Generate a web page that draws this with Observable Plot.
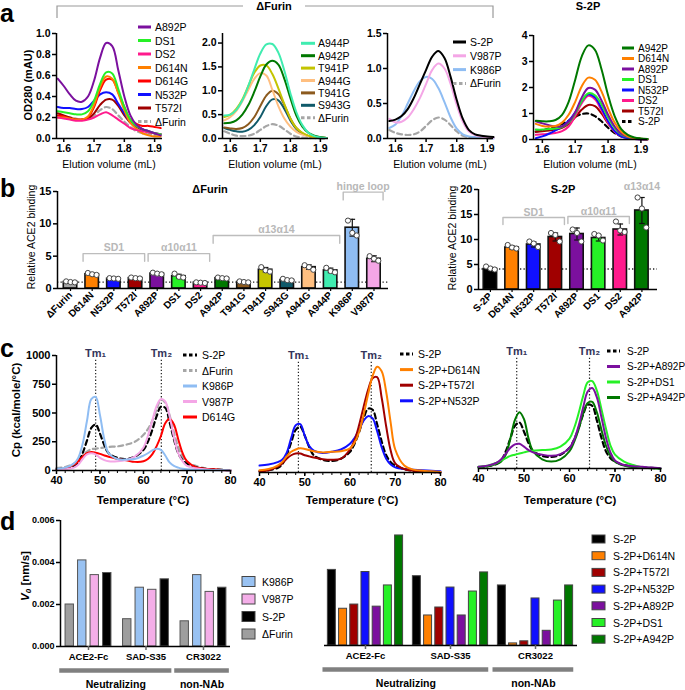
<!DOCTYPE html>
<html><head><meta charset="utf-8">
<script src="https://cdn.jsdelivr.net/npm/d3@7"></script>
<script src="https://cdn.jsdelivr.net/npm/@observablehq/plot@0.6"></script>
<style>
body{margin:0;background:#fff;}
#fig{position:relative;width:685px;height:690px;overflow:hidden;background:#fff;}
</style></head><body><div id="fig"></div>
<script>
const FONT = '"Liberation Sans", Arial, Helvetica, sans-serif';

// ---------------- DATA ----------------
const mutantColors = {
  "ΔFurin": "#a6a6a6", "S-2P": "#000000", "D614N": "#ff8000", "N532P": "#1010ff",
  "T572I": "#a00000", "A892P": "#7b109e", "DS1": "#26f026", "DS2": "#ff1a8c",
  "A942P": "#007800", "T941G": "#8c5a1e", "T941P": "#c4c400", "S943G": "#105a6a",
  "A944G": "#ffbf80", "A944P": "#40ecb0", "K986P": "#8fbdf3", "V987P": "#f4a6e6",
  "D614G": "#ff0000"
};

// panel a: elution volume grid (mL)
const elution = [1.58,1.60,1.62,1.64,1.66,1.68,1.70,1.72,1.74,1.76,1.78,1.80,1.82,1.84,1.86,1.88,1.90,1.92];

const a1Names = ["A892P","DS1","DS2","D614N","D614G","N532P","T572I","ΔFurin"];
const a1Values = [
  [0.57,0.50,0.42,0.36,0.35,0.40,0.55,0.77,0.91,0.88,0.65,0.40,0.22,0.13,0.09,0.07,0.05,0.03],
  [0.26,0.25,0.24,0.23,0.23,0.26,0.36,0.52,0.63,0.62,0.47,0.30,0.18,0.12,0.09,0.07,0.05,0.04],
  [0.20,0.19,0.18,0.17,0.17,0.18,0.20,0.23,0.25,0.22,0.18,0.14,0.10,0.08,0.07,0.06,0.05,0.04],
  [0.20,0.20,0.19,0.18,0.18,0.21,0.32,0.49,0.59,0.57,0.43,0.27,0.15,0.09,0.05,0.03,0.02,0.02],
  [0.22,0.21,0.19,0.18,0.18,0.20,0.30,0.46,0.56,0.56,0.44,0.30,0.18,0.14,0.12,0.12,0.11,0.10],
  [0.30,0.29,0.29,0.28,0.28,0.30,0.36,0.42,0.44,0.42,0.33,0.24,0.16,0.12,0.09,0.07,0.05,0.04],
  [0.24,0.22,0.20,0.18,0.18,0.19,0.24,0.32,0.37,0.37,0.31,0.22,0.15,0.11,0.08,0.06,0.05,0.04],
  [0.22,0.21,0.20,0.19,0.18,0.19,0.22,0.27,0.30,0.28,0.22,0.16,0.11,0.07,0.05,0.04,0.03,0.02]
];
const a2Names = ["A944P","A942P","T941P","A944G","T941G","S943G","ΔFurin"];
const a2Values = [
  [0.48,0.50,0.60,0.80,1.10,1.45,1.78,1.97,1.98,1.80,1.42,0.95,0.55,0.28,0.12,0.05,0.02,0.01],
  [0.32,0.33,0.38,0.50,0.70,0.98,1.30,1.55,1.63,1.55,1.25,0.85,0.48,0.25,0.12,0.06,0.03,0.01],
  [0.45,0.50,0.62,0.82,1.10,1.38,1.53,1.53,1.35,1.05,0.72,0.42,0.22,0.12,0.06,0.03,0.02,0.01],
  [0.38,0.45,0.58,0.78,1.02,1.25,1.37,1.32,1.02,0.68,0.42,0.25,0.14,0.08,0.05,0.03,0.02,0.01],
  [0.23,0.21,0.20,0.22,0.30,0.45,0.68,0.90,1.00,0.93,0.70,0.42,0.22,0.11,0.05,0.03,0.02,0.01],
  [0.22,0.18,0.15,0.14,0.18,0.28,0.45,0.68,0.82,0.80,0.62,0.38,0.20,0.10,0.05,0.03,0.02,0.01],
  [0.15,0.10,0.06,0.05,0.06,0.10,0.18,0.26,0.30,0.27,0.19,0.10,0.04,0.02,0.01,0.01,0.00,0.00]
];
const a3Names = ["S-2P","V987P","K986P","ΔFurin"];
const a3Values = [
  [0.25,0.27,0.32,0.42,0.58,0.78,0.98,1.17,1.25,1.15,0.88,0.55,0.28,0.12,0.06,0.04,0.03,0.02],
  [0.28,0.23,0.24,0.30,0.42,0.58,0.78,0.98,1.07,1.00,0.78,0.48,0.24,0.10,0.05,0.03,0.02,0.01],
  [0.15,0.20,0.32,0.50,0.68,0.82,0.88,0.85,0.72,0.52,0.30,0.14,0.06,0.03,0.02,0.01,0.01,0.00],
  [0.12,0.08,0.06,0.05,0.06,0.10,0.18,0.26,0.30,0.27,0.19,0.10,0.04,0.02,0.01,0.01,0.00,0.00]
];
const a4Names = ["A942P","D614N","A892P","DS1","N532P","DS2","T572I","S-2P"];
const a4Values = [
  [0.72,0.70,0.70,0.75,0.95,1.45,2.30,3.20,3.62,3.45,2.70,1.70,0.90,0.40,0.18,0.08,0.04,0.02],
  [0.60,0.52,0.50,0.52,0.65,0.95,1.45,2.05,2.38,2.30,1.85,1.20,0.65,0.30,0.12,0.06,0.03,0.01],
  [0.70,0.62,0.55,0.50,0.50,0.68,1.05,1.62,1.98,1.92,1.50,0.95,0.50,0.22,0.10,0.05,0.02,0.01],
  [0.38,0.38,0.40,0.42,0.48,0.65,1.00,1.48,1.78,1.70,1.35,0.85,0.45,0.20,0.09,0.04,0.02,0.01],
  [0.05,0.12,0.22,0.35,0.50,0.72,1.05,1.48,1.74,1.62,1.20,0.70,0.32,0.12,0.05,0.02,0.01,0.00],
  [0.18,0.20,0.22,0.25,0.32,0.50,0.90,1.40,1.68,1.55,1.12,0.65,0.30,0.12,0.05,0.02,0.01,0.00],
  [0.30,0.32,0.35,0.38,0.45,0.60,0.85,1.15,1.33,1.28,1.00,0.62,0.32,0.14,0.06,0.03,0.01,0.00],
  [0.30,0.35,0.42,0.50,0.60,0.72,0.88,0.98,1.00,0.90,0.70,0.45,0.25,0.12,0.06,0.03,0.02,0.01]
];

// panel b: relative ACE2 binding
const b1Names = ["ΔFurin","D614N","N532P","T572I","A892P","DS1","DS2","A942P","T941G","T941P","S943G","A944G","A944P","K986P","V987P"];
const b1Means = [1.0,2.2,1.5,1.6,2.3,1.9,0.9,1.6,1.0,2.9,1.3,3.3,2.8,9.4,4.6];
const b1SD = [0.1,0.15,0.1,0.1,0.15,0.3,0.1,0.1,0.1,0.35,0.15,0.35,0.35,1.3,0.45];
const b1Reps = [[1.1,1.0,0.95],[2.4,2.2,2.1],[1.6,1.55,1.5],[1.7,1.6,1.55],[2.45,2.3,2.2],[2.3,1.8,1.7],[0.95,0.9,0.85],[1.7,1.6,1.55],[1.1,1.0,0.95],[3.3,2.8,2.6],[1.5,1.3,1.25],[3.6,3.3,2.9],[3.2,2.7,2.5],[10.5,8.6,8.2],[5.0,4.6,4.3]];
const b1Groups = [{label:"SD1",from:1,to:3},{label:"α10α11",from:4,to:6},{label:"α13α14",from:7,to:12},{label:"hinge loop",from:13,to:14}];

const b2Names = ["S-2P","D614N","N532P","T572I","A892P","DS1","DS2","A942P"];
const b2Means = [4.1,8.4,9.0,10.5,11.1,10.3,12.0,15.8];
const b2SD = [0.3,0.3,0.5,0.8,1.2,0.6,1.1,2.6];
const b2Reps = [[4.6,4.2,4.0],[8.9,8.4,8.2],[9.6,9.2,8.5],[11.3,10.9,9.6],[12.0,11.3,9.6],[11.1,10.8,9.8],[13.6,11.8,11.5],[18.4,16.2,12.4]];
const b2Groups = [{label:"SD1",from:1,to:3},{label:"α10α11",from:4,to:6},{label:"α13α14",from:7,to:7}];

// panel c: DSC thermograms
const temps = [40,42,44,45,46,47,48,49,50,51,52,54,56,58,60,61,62,63,64,65,66,67,68,69,70,72,74,76,78,80];
const cpS2P    = [10,20,40,70,150,260,370,400,320,220,150,110,100,120,180,250,350,470,555,545,420,270,150,90,60,30,15,10,5,0];
const cpFurin  = [20,30,60,90,130,165,185,190,195,200,205,210,225,250,310,360,430,530,615,590,480,330,200,120,70,40,20,10,5,0];
const cpK986P  = [15,25,60,110,230,430,620,640,480,270,150,100,95,100,130,150,175,190,180,130,70,40,25,15,10,5,5,3,2,0];
const cpV987P  = [5,10,25,50,100,140,150,140,110,90,80,80,90,120,200,300,430,560,620,600,470,290,150,80,40,20,10,5,3,0];
const cpD614G  = [10,20,50,80,120,150,160,155,145,130,120,100,90,75,80,100,140,210,300,410,450,400,270,150,80,30,15,10,5,0];
const cpD614N  = [20,30,60,90,140,180,200,210,205,195,185,175,180,185,210,260,350,500,680,840,920,880,700,430,200,60,25,15,10,5];
const cpT572I  = [10,20,50,80,120,150,165,165,150,140,130,115,110,120,200,280,410,570,720,820,830,650,400,190,80,30,15,10,5,0];
const cpN532P  = [60,70,90,110,170,300,410,420,320,230,190,170,180,200,250,300,370,450,490,470,360,220,120,70,45,30,25,20,15,10];
const cpA892P  = [15,25,50,80,130,180,210,215,190,160,140,120,110,125,180,250,370,530,670,700,620,450,270,140,70,30,20,15,8,3];
const cpDS1    = [15,25,50,70,90,110,120,130,140,150,155,160,165,190,260,350,480,630,750,760,680,520,350,200,120,60,30,10,5,0];
const cpA942P  = [10,20,40,60,120,260,420,490,430,260,150,80,60,80,150,230,340,480,570,580,490,340,200,110,60,25,10,5,3,0];
const c1Names = ["S-2P","ΔFurin","K986P","V987P","D614G"];
const c1Values = [cpS2P, cpFurin, cpK986P, cpV987P, cpD614G];
const c2Names = ["S-2P","S-2P+D614N","S-2P+T572I","S-2P+N532P"];
const c2Values = [cpS2P, cpD614N, cpT572I, cpN532P];
const c3Names = ["S-2P","S-2P+A892P","S-2P+DS1","S-2P+A942P"];
const c3Values = [cpS2P, cpA892P, cpDS1, cpA942P];
const c1Tm = [49.0, 64.1];
const c2Tm = [48.6, 64.7];
const c3Tm = [48.4, 64.4];
const tmLabels = ["Tm₁","Tm₂"];

// panel d: binding rates V0 (nm/s)
const dAntibodies = ["ACE2-Fc","SAD-S35","CR3022"];
const dGroups = [{label:"Neutralizing",from:0,to:1},{label:"non-NAb",from:2,to:2}];
const d1Names = ["ΔFurin","K986P","V987P","S-2P"];
const d1Values = [[0.0020,0.0041,0.0034,0.0035],[0.0013,0.0028,0.0027,0.0032],[0.0012,0.0034,0.0026,0.0028]];
const d1LegendOrder = ["K986P","V987P","S-2P","ΔFurin"];
const d2Names = ["S-2P","S-2P+D614N","S-2P+T572I","S-2P+N532P","S-2P+A892P","S-2P+DS1","S-2P+A942P"];
const d2Values = [[0.0036,0.00175,0.00195,0.0035,0.00185,0.00286,0.00524],[0.0033,0.00143,0.00181,0.00276,0.00143,0.00257,0.00348],[0.00286,0.0001,0.0002,0.00224,0.0007,0.00214,0.00286]];

// ---------------- HELPERS ----------------
const fig = document.getElementById("fig");
const colorOf = n => mutantColors[n.replace("S-2P+","")] || "#000";
const dPale = {"ΔFurin":"#9e9e9e","K986P":"#99c2f2","V987P":"#f4aee8","S-2P":"#000"};

function place(frame, opts) {
  const m = {l: 45, r: 12, t: 12, b: 45};
  const svg = Plot.plot({
    width: frame.r - frame.l + m.l + m.r,
    height: frame.b - frame.t + m.t + m.b,
    marginLeft: m.l, marginRight: m.r, marginTop: m.t, marginBottom: m.b,
    style: {fontFamily: FONT, fontSize: "11px", fontWeight: "bold", background: "transparent", overflow: "visible", color: "#000"},
    ...opts
  });
  svg.style.position = "absolute";
  svg.style.left = (frame.l - m.l) + "px";
  svg.style.top = (frame.t - m.t) + "px";
  fig.appendChild(svg);
  return svg;
}

function curvePlot(cfg) {
  const {frame, names, values, xs, xDomain, yDomain, xTicks, yTicks, xFmt, yFmt, dashed,
         minorX, showY = true, tickFont = 10.5, tm, tmText, tmTop, sw = 2} = cfg;
  const marks = [];
  if (tm) {
    marks.push(Plot.ruleX(tm, {x: d => d, y1: () => 0, y2: () => tmTop, stroke: "#222", strokeWidth: 1.2, strokeDasharray: "1.3,2"}));
    marks.push(Plot.text(tm, {x: d => d, y: () => yDomain[1], dy: -2, text: (d, i) => tmText[i], fill: "#34345a", fontSize: 11, fontWeight: "bold"}));
  }
  const order = names.map((n, k) => k).reverse();
  order.sort((a, b) => (dashed.includes(names[b]) ? 1 : 0) - (dashed.includes(names[a]) ? 1 : 0));
  for (const k of order) {
    const isD = dashed.includes(names[k]);
    marks.push(Plot.line(xs.map((x, i) => ({x, y: values[k][i]})), {
      x: "x", y: "y", stroke: colorOf(names[k]), strokeWidth: isD ? 2.2 : sw, curve: "catmull-rom",
      strokeDasharray: isD ? "5,3.5" : undefined
    }));
  }
  marks.push(Plot.ruleY([yDomain[0]], {stroke: "#000", strokeWidth: 1.5}));
  if (showY) marks.push(Plot.ruleX([xDomain[0]], {stroke: "#000", strokeWidth: 1.5}));
  if (minorX) marks.push(Plot.axisX({ticks: minorX, tickSize: 3, tickFormat: () => "", label: null, strokeWidth: 1}));
  marks.push(Plot.axisX({ticks: xTicks, tickFormat: xFmt, tickSize: 4, tickPadding: 2, label: null, fontSize: tickFont, strokeWidth: 1.5}));
  if (showY) marks.push(Plot.axisY({ticks: yTicks, tickFormat: yFmt, tickSize: 4, tickPadding: 2, label: null, fontSize: tickFont, strokeWidth: 1.5}));
  place(frame, {
    x: {domain: xDomain, label: null},
    y: {domain: yDomain, label: null, axis: showY ? undefined : null},
    marks
  });
}

function barPlot(cfg) {
  const {frame, names, means, sds, reps, groups, xDomain, yDomain, yTicks, tops, drop, labelLift} = cfg;
  const rows = names.map((name, i) => ({i, name, mean: means[i], sd: sds[i]}));
  const pts = reps.flatMap((r, i) => r.map((v, k) => ({i, k, v})));
  const offs = [-0.2, 0, 0.2];
  const half = 0.31;
  const gl = groups.map((g, j) => ({...g, top: tops[j]}));
  const brPts = gl.filter(g => g.to > g.from).flatMap(g => [
    {label: g.label, x: g.from - 0.42, y: g.top - drop},
    {label: g.label, x: g.from - 0.42, y: g.top},
    {label: g.label, x: g.to + 0.42, y: g.top},
    {label: g.label, x: g.to + 0.42, y: g.top - drop}
  ]);
  place(frame, {
    x: {domain: xDomain, label: null},
    y: {domain: yDomain, label: null},
    color: {type: "identity"},
    marks: [
      Plot.ruleY([means[0]], {stroke: "#222", strokeWidth: 1.3, strokeDasharray: "1.3,2.2"}),
      Plot.rect(rows, {x1: d => d.i - half, x2: d => d.i + half, y1: () => 0, y2: "mean", fill: d => colorOf(d.name), stroke: "#111", strokeWidth: 1.6}),
      Plot.ruleX(rows, {x: "i", y1: d => d.mean - d.sd, y2: d => d.mean + d.sd, stroke: "#111", strokeWidth: 1.2}),
      Plot.link(rows, {x1: d => d.i - 0.13, x2: d => d.i + 0.13, y1: d => d.mean + d.sd, y2: d => d.mean + d.sd, stroke: "#111", strokeWidth: 1.2}),
      Plot.link(rows, {x1: d => d.i - 0.13, x2: d => d.i + 0.13, y1: d => d.mean - d.sd, y2: d => d.mean - d.sd, stroke: "#111", strokeWidth: 1.2}),
      Plot.dot(pts, {x: d => d.i + offs[d.k], y: "v", r: 2.6, fill: "#fff", stroke: "#444", strokeWidth: 1}),
      Plot.line(brPts, {x: "x", y: "y", z: "label", stroke: "#bdbdbd", strokeWidth: 1.4}),
      Plot.text(gl, {x: d => (d.from + d.to) / 2, y: "top", dy: -labelLift, text: "label", fill: "#b8b8b8", fontSize: 10.5, fontWeight: "bold"}),
      Plot.ruleY([0], {stroke: "#000", strokeWidth: 1.5}),
      Plot.ruleX([xDomain[0]], {stroke: "#000", strokeWidth: 1.5}),
      Plot.axisX({ticks: d3.range(names.length), tickFormat: i => names[i], tickRotate: -45, tickSize: 3, tickPadding: 2, label: null, fontSize: 10, strokeWidth: 1.2}),
      Plot.axisY({ticks: yTicks, tickSize: 4, tickPadding: 2, label: null, fontSize: 11, strokeWidth: 1.5})
    ]
  });
}

function rateplot(cfg) {
  const {frame, names, values, xDomain, step, half, showY, fills, stroke} = cfg;
  const n = names.length;
  const rows = values.flatMap((vals, g) => vals.map((v, j) => ({g, j, name: names[j], v})));
  const marks = [
    Plot.rect(rows, {x1: d => d.g + (d.j - (n - 1) / 2) * step - half, x2: d => d.g + (d.j - (n - 1) / 2) * step + half,
      y1: () => 0, y2: "v", fill: d => fills(d.name), stroke: stroke, strokeWidth: 1}),
    Plot.ruleY([0], {stroke: "#000", strokeWidth: 1.5}),
    Plot.axisX({ticks: [0, 1, 2], tickFormat: i => dAntibodies[i], tickSize: 4, tickPadding: 3, label: null, fontSize: 9.5, stroke: "#666", strokeWidth: 1.5}),
    Plot.ruleY(dGroups, {y: () => 0, x1: d => d.from - 0.5, x2: d => d.to + 0.45, dy: 24, stroke: "#808080", strokeWidth: 4.5}),
    Plot.text(dGroups, {x: d => (d.from + d.to - 0.05) / 2, y: () => 0, dy: 38, text: "label", fontSize: 10.5, fontWeight: "bold"})
  ];
  if (showY) {
    marks.push(Plot.ruleX([xDomain[0]], {stroke: "#000", strokeWidth: 1.5}));
    marks.push(Plot.axisY({ticks: [0, 0.002, 0.004, 0.006], tickFormat: ".3f", tickSize: 4, tickPadding: 2, label: null, fontSize: 9, strokeWidth: 1.5}));
  }
  place(frame, {
    x: {domain: xDomain, label: null},
    y: {domain: [0, 0.006], label: null, axis: showY ? undefined : null},
    color: {type: "identity"},
    marks
  });
}

// ---------------- PANEL A ----------------
curvePlot({frame: {l: 56, r: 162, t: 33, b: 138}, names: a1Names, values: a1Values, xs: elution,
  xDomain: [1.576, 1.926], yDomain: [0, 1.0], xTicks: [1.6, 1.7, 1.8, 1.9], yTicks: [0, 0.2, 0.4, 0.6, 0.8, 1.0],
  xFmt: ".1f", yFmt: ".1f", dashed: ["ΔFurin"]});
curvePlot({frame: {l: 222, r: 328, t: 33, b: 138}, names: a2Names, values: a2Values, xs: elution,
  xDomain: [1.574, 1.927], yDomain: [0, 2.2], xTicks: [1.6, 1.7, 1.8, 1.9], yTicks: [0, 0.5, 1.0, 1.5, 2.0],
  xFmt: ".1f", yFmt: ".1f", dashed: ["ΔFurin"]});
curvePlot({frame: {l: 387, r: 493, t: 33, b: 138}, names: a3Names, values: a3Values, xs: elution,
  xDomain: [1.574, 1.92], yDomain: [0, 1.5], xTicks: [1.6, 1.7, 1.8, 1.9], yTicks: [0, 0.5, 1.0, 1.5],
  xFmt: ".1f", yFmt: ".1f", dashed: ["ΔFurin"]});
curvePlot({frame: {l: 533, r: 647, t: 35, b: 139}, names: a4Names, values: a4Values, xs: elution,
  xDomain: [1.573, 1.92], yDomain: [0, 4], xTicks: [1.6, 1.7, 1.8, 1.9], yTicks: [0, 1, 2, 3, 4],
  xFmt: ".1f", yFmt: "d", dashed: ["S-2P"]});

// ---------------- PANEL B ----------------
barPlot({frame: {l: 57, r: 388, t: 191, b: 288}, names: b1Names, means: b1Means, sds: b1SD, reps: b1Reps,
  groups: b1Groups, xDomain: [-0.6, 14.67], yDomain: [0, 15], yTicks: [0, 5, 10, 15],
  tops: [5.4, 5.4, 8.2, 14.9], drop: 1.2, labelLift: 6});
barPlot({frame: {l: 478, r: 657, t: 189, b: 289}, names: b2Names, means: b2Means, sds: b2SD, reps: b2Reps,
  groups: b2Groups, xDomain: [-0.55, 7.72], yDomain: [0, 20], yTicks: [0, 5, 10, 15, 20],
  tops: [14.4, 14.6, 19.6], drop: 1.4, labelLift: 5});

// ---------------- PANEL C ----------------
const minorT = d3.range(40, 81, 2);
curvePlot({frame: {l: 56, r: 230, t: 355, b: 470}, names: c1Names, values: c1Values, xs: temps,
  xDomain: [40, 80], yDomain: [0, 1000], xTicks: [40, 50, 60, 70, 80], yTicks: [0, 250, 500, 750, 1000],
  xFmt: "d", yFmt: "d", dashed: ["S-2P", "ΔFurin"], minorX: minorT, tickFont: 11,
  tm: c1Tm, tmText: tmLabels, tmTop: 975});
curvePlot({frame: {l: 259, r: 440, t: 357, b: 472}, names: c2Names, values: c2Values, xs: temps,
  xDomain: [40, 80], yDomain: [0, 1000], xTicks: [40, 50, 60, 70, 80], yTicks: [],
  xFmt: "d", yFmt: "d", dashed: ["S-2P"], minorX: minorT, tickFont: 11, showY: false,
  tm: c2Tm, tmText: tmLabels, tmTop: 975});
curvePlot({frame: {l: 478, r: 660, t: 353, b: 468}, names: c3Names, values: c3Values, xs: temps,
  xDomain: [40, 80], yDomain: [0, 1000], xTicks: [40, 50, 60, 70, 80], yTicks: [],
  xFmt: "d", yFmt: "d", dashed: ["S-2P"], minorX: minorT, tickFont: 11, showY: false,
  tm: c3Tm, tmText: tmLabels, tmTop: 975});

// ---------------- PANEL D ----------------
rateplot({frame: {l: 60, r: 230, t: 520, b: 646}, names: d1Names, values: d1Values,
  xDomain: [-0.487, 2.47], step: 0.2174, half: 0.073, showY: true, fills: n => dPale[n], stroke: "#555"});
rateplot({frame: {l: 324, r: 577, t: 519, b: 645}, names: d2Names, values: d2Values,
  xDomain: [-0.482, 2.494], step: 0.1318, half: 0.047, showY: false, fills: colorOf, stroke: "#444"});

// ---------------- OVERLAY: labels, legends ----------------
const ov = d3.select(fig).append("svg").attr("width", 685).attr("height", 690)
  .style("position", "absolute").style("left", "0px").style("top", "0px")
  .style("font-family", FONT).style("overflow", "visible");

function txt(x, y, s, o = {}) {
  const t = ov.append("text").attr("x", x).attr("y", y).attr("font-size", o.size || 11)
    .attr("font-weight", o.weight || "normal").attr("text-anchor", o.anchor || "start")
    .attr("dominant-baseline", o.base || "central").attr("fill", o.fill || "#000").text(s);
  if (o.rotate) t.attr("transform", `rotate(${o.rotate},${x},${y})`);
  return t;
}
function lineLegend(labels, dashed, o) {
  labels.forEach((lab, i) => {
    const y = o.y0 + i * o.step;
    ov.append("line").attr("x1", o.x0).attr("x2", o.x1).attr("y1", y).attr("y2", y)
      .attr("stroke", colorOf(lab)).attr("stroke-width", 3)
      .attr("stroke-dasharray", dashed.includes(lab) ? "3.5,2.5" : null);
    txt(o.tx, y, lab, {size: o.size || 10.5});
  });
}
function swatchLegend(labels, fill, o) {
  labels.forEach((lab, i) => {
    const y = o.y0 + i * o.step;
    ov.append("rect").attr("x", o.x0).attr("y", y - o.h / 2).attr("width", o.w).attr("height", o.h)
      .attr("fill", fill(lab)).attr("stroke", "#444").attr("stroke-width", 1);
    txt(o.tx, y, lab, {size: 10.5});
  });
}

// panel letters
["a", "b", "c", "d"].forEach((L, i) => txt(0, [22, 197, 357, 530][i], L, {size: 25, weight: "bold", base: "alphabetic"}));

// panel a header
ov.append("path").attr("d", "M57,18V6H243M305,6H493V18").attr("fill", "none").attr("stroke", "#9a9a9a").attr("stroke-width", 1.2);
txt(274, 6, "ΔFurin", {size: 11, weight: "bold", anchor: "middle"});
txt(588, 6, "S-2P", {size: 11, weight: "bold", anchor: "middle"});
txt(28, 85, "OD280 (mAU)", {size: 11, weight: "bold", anchor: "middle", rotate: -90});
[109, 275, 440, 590].forEach(x => txt(x, 164, "Elution volume (mL)", {size: 10.5, anchor: "middle"}));
lineLegend(a1Names, ["ΔFurin"], {x0: 138, x1: 151, tx: 155, y0: 27, step: 13.5});
lineLegend(a2Names, ["ΔFurin"], {x0: 301, x1: 315, tx: 318, y0: 43.3, step: 12.4});
lineLegend(a3Names, ["ΔFurin"], {x0: 453, x1: 466, tx: 470, y0: 42, step: 13.8});
lineLegend(a4Names, ["S-2P"], {x0: 622, x1: 634, tx: 638, y0: 48, step: 10.5, size: 10});

// panel b
txt(210, 189, "ΔFurin", {size: 11, weight: "bold", anchor: "middle"});
txt(563, 189, "S-2P", {size: 11, weight: "bold", anchor: "middle"});
txt(31, 237, "Relative ACE2 binding", {size: 10.5, anchor: "middle", rotate: -90});
txt(452, 238, "Relative ACE2 binding", {size: 10.5, anchor: "middle", rotate: -90});

// panel c
txt(16, 410, "Cp (kcal/mole/°C)", {size: 11.5, weight: "bold", anchor: "middle", rotate: -90});
[[143, 500], [352, 500], [570, 500]].forEach(([x, y]) => txt(x, y, "Temperature (°C)", {size: 11.5, weight: "bold", anchor: "middle"}));
lineLegend(c1Names, ["S-2P", "ΔFurin"], {x0: 183, x1: 197, tx: 202, y0: 355, step: 15.5});
lineLegend(c2Names, ["S-2P"], {x0: 400, x1: 413, tx: 418, y0: 354, step: 15.6});
lineLegend(c3Names, ["S-2P"], {x0: 607, x1: 620, tx: 627, y0: 351, step: 15.5, size: 10});

// panel d
{
  const t = ov.append("text").attr("x", 25).attr("y", 576).attr("font-size", 11.5).attr("font-weight", "bold")
    .attr("text-anchor", "middle").attr("dominant-baseline", "central").attr("transform", "rotate(-90,25,576)");
  t.append("tspan").attr("font-style", "italic").text("V");
  t.append("tspan").attr("font-style", "italic").attr("font-size", 8).attr("dy", 3).text("0");
  t.append("tspan").attr("dy", -3).text(" [nm/s]");
}
swatchLegend(d1LegendOrder, n => dPale[n], {x0: 242, w: 13, h: 10, tx: 262, y0: 581.5, step: 17.5});
swatchLegend(d2Names, colorOf, {x0: 592, w: 13, h: 8, tx: 613, y0: 539, step: 16.7});
</script></body></html>
